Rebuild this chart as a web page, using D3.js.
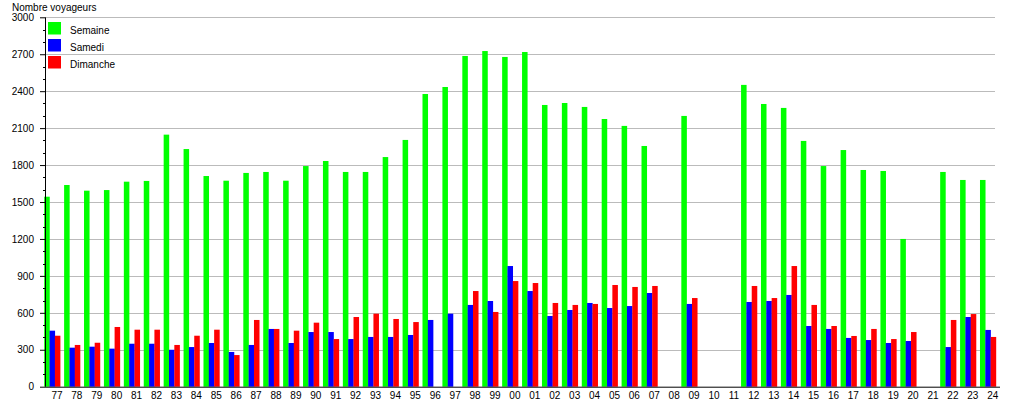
<!DOCTYPE html>
<html><head><meta charset="utf-8">
<script src="https://cdn.jsdelivr.net/npm/d3@7"></script>
<style>
html,body{margin:0;padding:0;background:#fff;}
text{font-family:"Liberation Sans",Arial,sans-serif;}
</style>
</head><body>
<svg id="c" width="1015" height="400"></svg>
<script>
const years = ["77","78","79","80","81","82","83","84","85","86","87","88","89","90","91","92","93","94","95","96","97","98","99","00","01","02","03","04","05","06","07","08","09","10","11","12","13","14","15","16","17","18","19","20","21","22","23","24"];
const semaine = [1543,1638,1592,1597,1665,1671,2047,1930,1711,1673,1736,1744,1673,1792,1833,1744,1744,1865,2004,2377,2434,2686,2726,2678,2718,2288,2304,2272,2174,2118,1955,null,2199,null,null,2451,2296,2264,1996,1792,1922,1760,1752,1200,null,1744,1679,1679];
const samedi = [455,317,325,309,349,349,300,322,355,282,339,469,355,444,444,387,404,404,420,542,593,664,696,980,777,574,623,680,639,655,761,null,672,null,null,688,696,745,493,469,396,379,355,371,null,322,566,461];
const dimanche = [414,339,357,485,463,463,339,414,463,257,542,469,455,520,387,566,593,550,525,null,null,777,607,858,842,680,664,672,826,810,818,null,720,null,null,818,720,980,664,493,412,469,387,444,null,542,590,404];
const seriesNames = ["Semaine","Samedi","Dimanche"];
const seriesColors = ["#00ff00","#0000ff","#ff0000"];
const yTicks = [0,300,600,900,1200,1500,1800,2100,2400,2700,3000];
const yTitle = "Nombre voyageurs";

const svg = d3.select("#c");
const mLeft = 45, mRight = 1000.7, mTop = 17.3, mBottom = 386.7;
const x = d3.scaleBand().domain(years).range([mLeft, mRight]).padding(0);
const y = d3.scaleLinear().domain([0, 3000]).range([mBottom, mTop]);
const x1 = d3.scaleBand().domain(seriesNames).range([0, 16]).padding(0);
const allSeries = [semaine, samedi, dimanche];

// gridlines
svg.append("g").selectAll("line").data(yTicks.filter(d => d > 0)).join("line")
  .attr("x1", mLeft).attr("x2", 995).attr("y1", d => Math.round(y(d)) + 0.5).attr("y2", d => Math.round(y(d)) + 0.5)
  .attr("stroke", "#bbbbbb").attr("stroke-width", 1);

// bars
const groups = svg.append("g").selectAll("g").data(years).join("g")
  .attr("transform", d => `translate(${x(d) - 0.8},0)`);
groups.selectAll("rect").data((d, i) => seriesNames.map((s, k) => ({s, k, v: allSeries[k][i]})).filter(o => o.v != null))
  .join("rect")
  .attr("x", o => x1(o.s))
  .attr("width", x1.bandwidth() + 0.2)
  .attr("y", o => y(o.v))
  .attr("height", o => y(0) - y(o.v))
  .attr("fill", o => seriesColors[o.k]);

// y axis
const yAxis = d3.axisLeft(y).tickValues(yTicks).tickSize(5).tickPadding(6).tickFormat(d3.format("d"));
const ya = svg.append("g").attr("transform", `translate(${mLeft},0)`).call(yAxis);
ya.select(".domain").attr("d", `M0.5,${mBottom}V${mTop}`).attr("stroke", "#000");
ya.selectAll("text").attr("font-size", "10px").attr("fill", "#000").attr("font-family", "Liberation Sans, Arial, sans-serif");
// minor ticks
const minor = d3.range(0, 3001, 100).filter(v => v % 300 !== 0);
svg.append("g").selectAll("line").data(minor).join("line")
  .attr("x1", mLeft - 2).attr("x2", mLeft).attr("y1", d => Math.round(y(d)) + 0.5).attr("y2", d => Math.round(y(d)) + 0.5)
  .attr("stroke", "#000");

// x axis
const xAxis = d3.axisBottom(x).tickSize(0).tickPadding(5);
const xa = svg.append("g").attr("transform", `translate(2,${mBottom})`).call(xAxis);
xa.select(".domain").remove();
xa.selectAll("text").attr("font-size", "10px").attr("fill", "#000").attr("font-family", "Liberation Sans, Arial, sans-serif");
svg.append("line").attr("x1", mLeft).attr("x2", 1000).attr("y1", mBottom + 0.5).attr("y2", mBottom + 0.5).attr("stroke", "#000");

// y title
svg.append("text").attr("x", 12).attr("y", 10.5).attr("font-size", "10px").text(yTitle);

// legend
const lg = svg.append("g").selectAll("g").data(seriesNames).join("g")
  .attr("transform", (d, i) => `translate(48,${22 + i * 17})`);
lg.append("rect").attr("width", 13).attr("height", 12.5).attr("fill", (d, i) => seriesColors[i]);
lg.append("text").attr("x", 22).attr("y", 11.5).attr("font-size", "10px").text(d => d);
</script>
</body></html>
